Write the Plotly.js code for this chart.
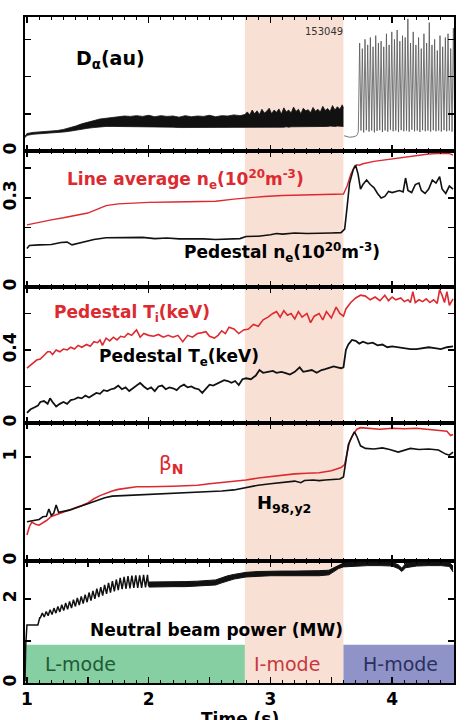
<!DOCTYPE html>
<html><head><meta charset="utf-8">
<script src="https://cdn.plot.ly/plotly-3.0.1.min.js"></script>
<style>html,body{margin:0;padding:0;background:#fff}#chart{width:466px;height:720px}</style>
</head><body><div id="chart"></div>
<script>
// ---------------- data ----------------
const modeRegions = ["L-mode", "I-mode", "H-mode"];
const modeBounds = [0.984, 2.79, 3.60, 4.508];

// Panel 1: D-alpha (au), L/I-mode noisy band (low / high envelope)
const daT  = [0.985,1.00,1.05,1.10,1.15,1.20,1.25,1.30,1.35,1.40,1.45,1.50,1.55,1.60,1.65,1.70,1.75,1.80,1.85,1.90,1.95,2.00,2.05,2.10,2.15,2.20,2.25,2.30,2.35,2.40,2.45,2.50,2.55,2.60,2.65,2.70,2.75,2.79,
              2.81,2.83,2.85,2.87,2.89,2.91,2.93,2.95,2.97,2.99,3.01,3.03,3.05,3.07,3.09,3.11,3.13,3.15,3.17,3.19,3.21,3.23,3.25,3.27,3.29,3.31,3.33,3.35,3.37,3.39,3.41,3.43,3.45,3.47,3.49,3.51,3.53,3.55,3.57,3.59,3.60];
const daLo = [0.36,0.42,0.45,0.46,0.47,0.48,0.49,0.51,0.53,0.56,0.59,0.61,0.63,0.65,0.66,0.66,0.66,0.66,0.66,0.65,0.65,0.65,0.64,0.64,0.64,0.64,0.63,0.63,0.63,0.63,0.62,0.62,0.62,0.62,0.62,0.62,0.62,0.62,
              0.62,0.62,0.63,0.62,0.63,0.63,0.62,0.63,0.63,0.64,0.63,0.64,0.63,0.64,0.64,0.64,0.65,0.64,0.65,0.65,0.64,0.65,0.65,0.66,0.65,0.65,0.66,0.65,0.66,0.66,0.65,0.66,0.66,0.66,0.67,0.66,0.66,0.67,0.66,0.66,0.66];
const daHi = [0.40,0.47,0.50,0.51,0.52,0.53,0.55,0.58,0.62,0.67,0.73,0.78,0.82,0.86,0.88,0.91,0.92,0.94,0.93,0.95,0.93,0.96,0.92,0.95,0.93,0.94,0.91,0.95,0.92,0.94,0.93,0.96,0.92,0.95,0.94,0.97,0.95,0.98,
              1.05,0.97,1.10,1.00,1.08,0.98,1.12,1.02,1.07,1.15,1.00,1.10,1.04,1.13,0.99,1.16,1.05,1.10,1.02,1.18,1.06,1.12,1.00,1.15,1.08,1.11,1.03,1.17,1.07,1.12,1.05,1.20,1.09,1.14,1.06,1.22,1.10,1.19,1.12,1.24,1.15];
// D-alpha after the L-H transition: dip, then ELM spikes
const daHT = [3.605,3.62,3.65,3.68,3.70,3.715,
              3.722,3.733,3.744,3.755,3.766,3.777,3.788,3.799,3.810,3.821,3.832,3.843,3.854,3.865,3.876,3.887,3.898,3.909,3.920,3.931,3.942,3.953,3.964,3.975,3.986,3.997,
              4.008,4.019,4.030,4.041,4.052,4.063,4.074,4.085,4.096,4.107,4.118,4.129,4.140,4.151,4.162,4.173,4.184,4.195,4.206,4.217,4.228,4.239,4.250,4.261,4.272,4.283,4.294,4.305,
              4.316,4.327,4.338,4.349,4.360,4.371,4.382,4.393,4.404,4.415,4.426,4.437,4.448,4.459,4.470,4.481,4.492,4.503,4.514];
const daHV = [0.41,0.39,0.37,0.38,0.40,0.44,
              0.52,2.90,0.55,2.75,0.50,3.00,0.56,2.85,0.52,3.05,0.55,2.80,0.50,3.10,0.54,2.90,0.56,2.95,0.51,2.80,0.55,3.15,0.52,2.85,0.57,3.20,
              0.53,3.00,0.55,3.25,0.51,2.95,0.56,3.10,0.53,3.05,0.55,3.55,0.52,2.90,0.57,3.20,0.53,2.85,0.55,3.05,0.51,2.75,0.56,3.15,0.53,2.90,0.55,3.45,
              0.52,2.85,0.56,3.00,0.53,2.70,0.55,3.10,0.52,2.80,0.56,3.05,0.53,3.15,0.55,2.75,0.52,3.30,0.55];

// Panel 2: densities (10^20 m^-3)
const neLineT = [1.00,1.10,1.20,1.30,1.40,1.50,1.58,1.65,1.75,1.85,2.00,2.20,2.40,2.55,2.70,2.80,2.95,3.10,3.30,3.50,3.60,3.63,3.66,3.69,3.71,3.73,3.76,3.85,4.00,4.10,4.20,4.30,4.40,4.47,4.50];
const neLineV = [0.209,0.218,0.226,0.233,0.240,0.249,0.262,0.274,0.280,0.283,0.285,0.286,0.287,0.289,0.296,0.300,0.305,0.308,0.310,0.311,0.313,0.340,0.380,0.405,0.412,0.410,0.415,0.423,0.432,0.438,0.443,0.448,0.450,0.449,0.444];
const nePedT = [1.00,1.02,1.10,1.20,1.28,1.33,1.37,1.45,1.55,1.65,1.75,1.85,1.95,2.05,2.15,2.25,2.35,2.45,2.55,2.65,2.75,2.80,2.90,3.00,3.05,3.10,3.20,3.30,3.40,3.50,3.58,3.61,3.63,3.65,3.68,3.70,3.72,3.74,3.76,3.79,3.82,3.85,3.88,3.91,3.94,3.97,4.00,4.03,4.06,4.09,4.11,4.13,4.16,4.19,4.22,4.24,4.27,4.30,4.33,4.36,4.39,4.41,4.44,4.47,4.50];
const nePedV = [0.130,0.140,0.142,0.143,0.150,0.151,0.142,0.150,0.160,0.166,0.166,0.165,0.167,0.163,0.165,0.162,0.163,0.162,0.160,0.162,0.163,0.170,0.171,0.176,0.180,0.178,0.182,0.180,0.182,0.182,0.183,0.195,0.270,0.350,0.395,0.410,0.380,0.330,0.345,0.360,0.345,0.335,0.315,0.300,0.305,0.322,0.318,0.322,0.325,0.320,0.367,0.325,0.318,0.345,0.350,0.325,0.315,0.330,0.360,0.350,0.372,0.330,0.315,0.340,0.330];

// Panel 3: pedestal temperatures (keV)
const tiT = [1.00,1.04,1.08,1.11,1.14,1.17,1.19,1.21,1.24,1.27,1.30,1.33,1.36,1.39,1.42,1.45,1.49,1.52,1.55,1.58,1.60,1.62,1.65,1.68,1.71,1.74,1.77,1.80,1.83,1.86,1.90,1.93,1.96,2.00,2.04,2.08,2.12,2.16,2.20,2.24,2.28,2.32,2.36,2.40,2.44,2.47,2.50,2.54,2.57,2.60,2.63,2.66,2.70,2.74,2.78,2.82,2.86,2.90,2.94,2.98,3.02,3.05,3.08,3.11,3.14,3.17,3.20,3.23,3.26,3.30,3.33,3.36,3.40,3.43,3.46,3.50,3.54,3.57,3.60,3.62,3.66,3.70,3.74,3.78,3.82,3.86,3.90,3.94,3.97,4.00,4.03,4.07,4.10,4.13,4.15,4.17,4.19,4.22,4.25,4.28,4.31,4.34,4.37,4.39,4.41,4.43,4.45,4.47,4.50];
const tiV = [0.300,0.320,0.345,0.350,0.370,0.390,0.390,0.375,0.400,0.390,0.405,0.400,0.415,0.405,0.425,0.415,0.430,0.420,0.445,0.440,0.455,0.425,0.465,0.450,0.470,0.455,0.475,0.470,0.490,0.480,0.510,0.470,0.490,0.480,0.475,0.485,0.470,0.480,0.470,0.480,0.445,0.480,0.470,0.490,0.495,0.500,0.475,0.465,0.480,0.505,0.490,0.525,0.515,0.490,0.510,0.515,0.540,0.530,0.565,0.580,0.600,0.610,0.580,0.615,0.590,0.600,0.570,0.610,0.580,0.600,0.550,0.585,0.600,0.565,0.610,0.575,0.635,0.600,0.585,0.625,0.660,0.685,0.700,0.695,0.675,0.690,0.670,0.700,0.670,0.690,0.675,0.685,0.665,0.675,0.660,0.720,0.660,0.675,0.665,0.680,0.660,0.675,0.655,0.730,0.700,0.660,0.720,0.645,0.680];
const teT = [1.00,1.03,1.06,1.09,1.11,1.14,1.17,1.19,1.21,1.24,1.27,1.30,1.33,1.36,1.39,1.42,1.45,1.48,1.51,1.54,1.57,1.60,1.63,1.66,1.69,1.72,1.75,1.78,1.81,1.84,1.87,1.90,1.93,1.96,1.99,2.02,2.05,2.08,2.11,2.14,2.17,2.20,2.23,2.26,2.29,2.32,2.35,2.38,2.41,2.44,2.47,2.50,2.53,2.56,2.59,2.62,2.65,2.68,2.71,2.74,2.77,2.80,2.84,2.88,2.91,2.94,2.98,3.02,3.05,3.09,3.12,3.16,3.20,3.24,3.27,3.30,3.34,3.38,3.42,3.45,3.48,3.52,3.55,3.58,3.60,3.62,3.64,3.67,3.70,3.73,3.76,3.80,3.84,3.88,3.92,3.96,4.00,4.05,4.10,4.15,4.20,4.25,4.30,4.35,4.40,4.45,4.50];
const teV = [0.055,0.075,0.085,0.095,0.115,0.120,0.105,0.135,0.115,0.090,0.105,0.115,0.105,0.125,0.130,0.140,0.135,0.150,0.140,0.155,0.165,0.160,0.180,0.175,0.185,0.190,0.205,0.185,0.195,0.175,0.190,0.205,0.220,0.200,0.185,0.195,0.175,0.200,0.205,0.185,0.195,0.190,0.180,0.200,0.210,0.195,0.200,0.190,0.185,0.165,0.190,0.210,0.205,0.215,0.225,0.235,0.230,0.220,0.230,0.208,0.240,0.245,0.240,0.260,0.290,0.275,0.280,0.285,0.275,0.280,0.275,0.265,0.280,0.305,0.280,0.285,0.290,0.275,0.290,0.295,0.300,0.310,0.305,0.300,0.305,0.400,0.430,0.455,0.450,0.435,0.445,0.435,0.440,0.425,0.430,0.415,0.420,0.415,0.410,0.405,0.405,0.410,0.415,0.410,0.405,0.415,0.420];

// Panel 4: beta_N and H98,y2
const betaT = [1.00,1.02,1.04,1.07,1.10,1.13,1.16,1.20,1.25,1.30,1.35,1.40,1.45,1.50,1.55,1.60,1.65,1.70,1.75,1.80,1.85,1.90,2.00,2.10,2.20,2.30,2.40,2.50,2.60,2.70,2.80,2.90,3.00,3.10,3.20,3.30,3.40,3.50,3.58,3.61,3.63,3.65,3.68,3.71,3.74,3.80,3.90,4.00,4.10,4.20,4.30,4.40,4.45,4.48,4.50];
const betaV = [0.25,0.33,0.375,0.355,0.345,0.365,0.39,0.43,0.45,0.47,0.49,0.515,0.535,0.56,0.60,0.63,0.655,0.675,0.69,0.70,0.705,0.715,0.715,0.715,0.72,0.725,0.73,0.745,0.755,0.765,0.78,0.80,0.815,0.83,0.84,0.845,0.85,0.87,0.90,0.93,1.05,1.15,1.22,1.27,1.285,1.28,1.27,1.28,1.275,1.28,1.27,1.26,1.25,1.21,1.22];
const hT = [1.00,1.05,1.10,1.13,1.16,1.18,1.20,1.22,1.24,1.26,1.30,1.35,1.40,1.46,1.52,1.58,1.64,1.70,1.80,1.90,2.00,2.10,2.15,2.20,2.30,2.40,2.50,2.60,2.70,2.80,2.90,3.00,3.10,3.15,3.20,3.25,3.28,3.35,3.40,3.45,3.50,3.57,3.60,3.62,3.64,3.67,3.69,3.71,3.74,3.78,3.85,3.92,3.98,4.05,4.10,4.15,4.22,4.30,4.38,4.44,4.47,4.50];
const hV = [0.378,0.39,0.40,0.426,0.43,0.50,0.44,0.46,0.54,0.47,0.48,0.49,0.51,0.535,0.56,0.59,0.61,0.625,0.63,0.635,0.64,0.645,0.648,0.655,0.66,0.665,0.67,0.675,0.685,0.71,0.73,0.745,0.76,0.765,0.77,0.755,0.775,0.78,0.775,0.78,0.785,0.79,0.81,0.95,1.12,1.20,1.245,1.20,1.11,1.085,1.08,1.09,1.075,1.05,1.07,1.085,1.075,1.08,1.07,1.03,1.02,1.05];

// Panel 5: neutral beam power (MW); early trace with modulation teeth
const pnbT = [0.984,0.99,1.00,1.09,1.105,
  1.110,1.126,1.142,1.158,1.174,1.190,1.206,1.222,1.238,1.254,1.270,1.286,1.302,1.318,1.334,1.350,1.366,1.382,1.398,1.414,1.430,1.446,1.462,1.478,1.494,1.510,
  1.526,1.542,1.558,1.574,1.590,1.606,1.622,1.638,1.654,1.670,1.686,1.702,1.718,1.734,1.750,1.766,1.782,1.798,1.814,1.830,1.846,1.862,1.878,1.894,1.910,1.926,1.942,1.958,1.974,1.990,2.00];
const pnbV = [0.05,0.90,1.38,1.38,1.55,
  1.55,1.66,1.57,1.70,1.60,1.74,1.63,1.78,1.66,1.82,1.69,1.86,1.72,1.90,1.75,1.94,1.78,1.98,1.82,2.02,1.85,2.06,1.89,2.10,1.92,2.15,
  1.96,2.19,2.00,2.24,2.04,2.28,2.08,2.33,2.12,2.38,2.15,2.42,2.18,2.46,2.21,2.50,2.23,2.52,2.24,2.54,2.25,2.55,2.26,2.56,2.26,2.56,2.26,2.57,2.27,2.57,2.30];
// later trace: fast modulation shown as a band (low / high envelope)
const pnbBandT  = [2.00,2.10,2.20,2.30,2.40,2.50,2.55,2.60,2.65,2.70,2.80,2.90,3.00,3.10,3.20,3.30,3.40,3.48,3.52,3.56,3.60,3.70,3.80,3.90,4.00,4.05,4.08,4.11,4.20,4.30,4.40,4.47,4.50];
const pnbBandLo = [2.28,2.29,2.29,2.29,2.30,2.31,2.33,2.38,2.43,2.47,2.52,2.54,2.55,2.55,2.55,2.55,2.55,2.57,2.64,2.72,2.76,2.78,2.79,2.79,2.78,2.72,2.65,2.74,2.78,2.79,2.79,2.77,2.64];
const pnbBandHi = [2.40,2.40,2.41,2.41,2.42,2.43,2.45,2.50,2.55,2.58,2.63,2.65,2.66,2.66,2.66,2.66,2.67,2.68,2.74,2.81,2.85,2.87,2.87,2.88,2.87,2.81,2.73,2.84,2.87,2.87,2.87,2.86,2.78];

const xTickVals = [1,1.5,2,2.5,3,3.5,4,4.5];
const xTickText = ["1","","2","","3","","4",""];
const yRanges = [[0,3.6],[0,0.458],[0,0.745],[0,1.33],[0,2.9]];
const yTickVals = [[0,1,2,3],[0,0.1,0.2,0.3,0.4],[0,0.2,0.4,0.6],[0,0.5,1],[0,1,2]];
const yTickText = [["0","","",""],["0","","","0.3",""],["0","","0.4",""],["0","","1"],["0","","2"]];

// ---------------- styling ----------------
const RED = "#dc2a30", BLK = "#111111";
const FONT = "DejaVu Sans";
const X_RANGE = [0.984, 4.508];
const domains = [[0.7988,1],[0.5946,0.7988],[0.3904,0.5946],[0.1832,0.3904],[0,0.1832]];
const ax = i => (i === 1 ? "" : String(i));

const traces = [];
function line(i, x, y, color, width, extra) {
  traces.push(Object.assign({type:"scatter", mode:"lines", x, y, xaxis:"x"+ax(i), yaxis:"y"+ax(i),
    line:{color, width}, hoverinfo:"skip"}, extra || {}));
}
// Panel 1
line(1, daT, daLo, BLK, 0.8);
line(1, daT, daHi, BLK, 0.8, {fill:"tonexty", fillcolor:BLK});
line(1, daHT, daHV, "#555555", 0.8);
// Panel 2
line(2, neLineT, neLineV, RED, 1.4);
line(2, nePedT, nePedV, BLK, 1.6);
// Panel 3
line(3, tiT, tiV, RED, 1.6);
line(3, teT, teV, BLK, 1.8);
// Panel 4
line(4, betaT, betaV, RED, 1.6);
line(4, hT, hV, BLK, 1.6);
// Panel 5
line(5, pnbT, pnbV, BLK, 1.5);
line(5, pnbBandT, pnbBandLo, BLK, 1);
line(5, pnbBandT, pnbBandHi, BLK, 1, {fill:"tonexty", fillcolor:BLK});

const layout = {
  width:466, height:720, margin:{l:25, r:12, t:17, b:37},
  paper_bgcolor:"#fff", plot_bgcolor:"rgba(0,0,0,0)", showlegend:false,
  font:{family:FONT, color:"#000"},
  shapes:[], annotations:[]
};
const tickFont = {family:FONT, size:17, color:"#000", weight:"bold"};
for (let i = 1; i <= 5; i++) {
  layout["xaxis"+ax(i)] = {
    domain:[0,1], range:X_RANGE, anchor:"y"+ax(i), matches: i===1 ? undefined : "x",
    showline:true, linewidth:2, linecolor:"#000", mirror:"ticks",
    ticks:"inside", ticklen:6, tickwidth:1.5, tickcolor:"#000",
    tickmode:"array", tickvals:xTickVals, ticktext:xTickText, showticklabels:i===5,
    tickfont:tickFont, showgrid:false, zeroline:false,
    minor:{ticks:"inside", ticklen:3, tickwidth:1, tickcolor:"#000", dtick:0.1, tick0:1, showgrid:false}
  };
  layout["yaxis"+ax(i)] = {
    domain:domains[i-1], range:yRanges[i-1], anchor:"x"+ax(i),
    showline:true, linewidth:2, linecolor:"#000", mirror:"ticks",
    ticks:"inside", ticklen:6, tickwidth:1.5, tickcolor:"#000",
    tickmode:"array", tickvals:yTickVals[i-1], ticktext:yTickText[i-1],
    tickangle:-90, tickfont:tickFont, showgrid:false, zeroline:false
  };
}
// I-mode shading through all panels
layout.shapes.push({type:"rect", xref:"x", yref:"paper", x0:modeBounds[1], x1:modeBounds[2], y0:0, y1:1,
  fillcolor:"#f9e0d5", line:{width:0}, layer:"below"});
// L-mode and H-mode boxes
layout.shapes.push({type:"rect", xref:"x5", yref:"y5", x0:modeBounds[0], x1:modeBounds[1], y0:0, y1:0.91,
  fillcolor:"#85cfa2", line:{width:0}, layer:"below"});
layout.shapes.push({type:"rect", xref:"x5", yref:"y5", x0:modeBounds[2], x1:modeBounds[3], y0:0, y1:0.91,
  fillcolor:"#8f93c8", line:{width:0}, layer:"below"});

function ann(i, x, y, text, color, size, extra) {
  layout.annotations.push(Object.assign({xref:"x"+ax(i), yref:"y"+ax(i), x, y, text, showarrow:false,
    xanchor:"left", yanchor:"middle", font:{family:FONT, size, color, weight:"bold"}}, extra || {}));
}
ann(1, 1.39, 2.45, "D<sub>α</sub>(au)", "#000", 19);
ann(1, 3.44, 3.22, "153049", "#333", 10, {xanchor:"center", font:{family:FONT, size:10, color:"#333", weight:"normal"}});
ann(2, 1.31, 0.362, "Line average n<sub>e</sub>(10<sup>20</sup>m<sup>-3</sup>)", RED, 17);
ann(2, 2.27, 0.117, "Pedestal n<sub>e</sub>(10<sup>20</sup>m<sup>-3</sup>)", "#000", 17);
ann(3, 1.205, 0.60, "Pedestal T<sub>i</sub>(keV)", RED, 17);
ann(3, 1.575, 0.358, "Pedestal T<sub>e</sub>(keV)", "#000", 17);
ann(4, 2.07, 0.93, "β<sub><b>N</b></sub>", RED, 20, {font:{family:FONT, size:20, color:RED, weight:"normal"}});
ann(4, 2.87, 0.55, "H<sub>98,y2</sub>", "#000", 18);
ann(5, 1.50, 1.26, "Neutral beam power (MW)", "#000", 17);
ann(5, 1.44, 0.44, modeRegions[0], "#1f5a35", 19, {xanchor:"center", font:{family:FONT, size:19, color:"#1f5a35", weight:"normal"}});
ann(5, 3.14, 0.44, modeRegions[1], "#c8383c", 19, {xanchor:"center", font:{family:FONT, size:19, color:"#c8383c", weight:"normal"}});
ann(5, 4.07, 0.44, modeRegions[2], "#2b3060", 19, {xanchor:"center", font:{family:FONT, size:19, color:"#2b3060", weight:"normal"}});
layout.annotations.push({xref:"x5", yref:"paper", x:2.75, y:-0.036, yanchor:"top", xanchor:"center",
  text:"Time (s)", showarrow:false, font:{family:FONT, size:17, color:"#000", weight:"bold"}});

Plotly.newPlot("chart", traces, layout, {staticPlot:true, displayModeBar:false});
</script></body></html>
